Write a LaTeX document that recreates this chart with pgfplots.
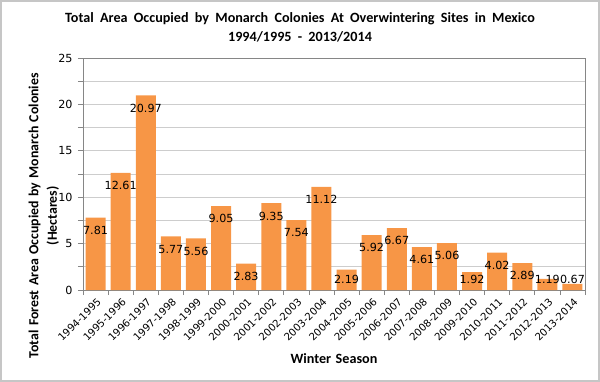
\documentclass[border=0pt]{standalone}
\usepackage{pgfplots}
\pgfplotsset{compat=1.18}
\usepackage{pgfplotstable}
\usepackage{fontspec}
\setmainfont{Carlito}
\newfontfamily\dejavu{DejaVu Sans}
\newfontfamily\lbl[WordSpace=1.7]{Carlito}
\newfontfamily\ylbl[WordSpace=1.4]{Carlito}
\definecolor{barorange}{RGB}{247,150,70}
\definecolor{gridgray}{RGB}{205,205,205}
\definecolor{axisgray}{RGB}{134,134,134}
\pgfplotstableread{
x v
0 7.81
1 12.61
2 20.97
3 5.77
4 5.56
5 9.05
6 2.83
7 9.35
8 7.54
9 11.12
10 2.19
11 5.92
12 6.67
13 4.61
14 5.06
15 1.92
16 4.02
17 2.89
18 1.19
19 0.67
}\datatable
\begin{document}
\begin{tikzpicture}
\useasboundingbox (-83bp,-92bp) rectangle (517bp,290bp);
\draw[gray!45, line width=1.6bp] (-82.2bp,-91.2bp) rectangle (516.2bp,289.2bp);
\begin{axis}[
  name=ax, at={(0,0)}, anchor=south west,
  scale only axis, width=502bp, height=232bp,
  xmin=-0.5, xmax=19.5, ymin=0, ymax=25,
  ytick={0,5,10,15,20,25},
  minor ytick={2.5,7.5,12.5,17.5,22.5},
  ymajorgrids, yminorgrids,
  major grid style={gridgray, line width=0.8bp},
  minor grid style={gridgray, line width=0.8bp},
  xtick=data,
  xticklabels={1994-1995,1995-1996,1996-1997,1997-1998,1998-1999,1999-2000,2000-2001,2001-2002,2002-2003,2003-2004,2004-2005,2005-2006,2006-2007,2007-2008,2008-2009,2009-2010,2010-2011,2011-2012,2012-2013,2013-2014},
  minor xtick={-0.5,0.5,...,19.5},
  x tick label style={rotate=45, anchor=north east, font=\dejavu\fontsize{10.2}{12}\selectfont, inner sep=1pt, yshift=-1bp},
  y tick label style={font=\dejavu\fontsize{11.2}{13}\selectfont, xshift=-2bp},
  /pgf/number format/assume math mode=true,
  tick align=outside,
  major x tick style={draw=none},
  minor x tick style={axisgray, line width=0.8bp},
  major y tick style={axisgray, line width=0.8bp},
  minor y tick style={axisgray, line width=0.8bp},
  major tick length=5bp, minor tick length=5bp,
  axis line style={axisgray, line width=0.8bp},
  xtick pos=bottom, ytick pos=left,
  title={Total Area Occupied by Monarch Colonies At Overwintering Sites in Mexico\\1994/1995 - 2013/2014},
  title style={at={(axis description cs:0.4323,1.108)}, anchor=center, align=center, font=\lbl\bfseries\fontsize{14.2}{19}\selectfont},
  xlabel={Winter Season},
  xlabel style={at={(axis description cs:0.5,-0.297)}, anchor=center, font=\ylbl\bfseries\fontsize{14.2}{18}\selectfont},
  ylabel={Total Forest Area Occupied by Monarch Colonies\\(Hectares)},
  ylabel style={at={(axis description cs:-0.078,0.32)}, rotate=0, anchor=center, align=center, font=\ylbl\bfseries\fontsize{13.9}{18.5}\selectfont},
]
\addplot[ybar, bar width=20bp, fill=barorange, draw=none, bar shift=0pt] table[x=x, y=v] {\datatable};
\addplot[only marks, mark=none, draw=none, forget plot,
  point meta=explicit,
  nodes near coords={\pgfmathprintnumber[fixed, fixed zerofill, precision=2]{\pgfplotspointmeta}},
  every node near coord/.style={anchor=center, inner sep=0pt, font=\dejavu\fontsize{11.2}{13}\selectfont, /pgf/number format/assume math mode=true},
] table[x=x, y expr={max(\thisrow{v}-1.37,1.19)}, meta=v] {\datatable};
\end{axis}
\end{tikzpicture}
\end{document}
